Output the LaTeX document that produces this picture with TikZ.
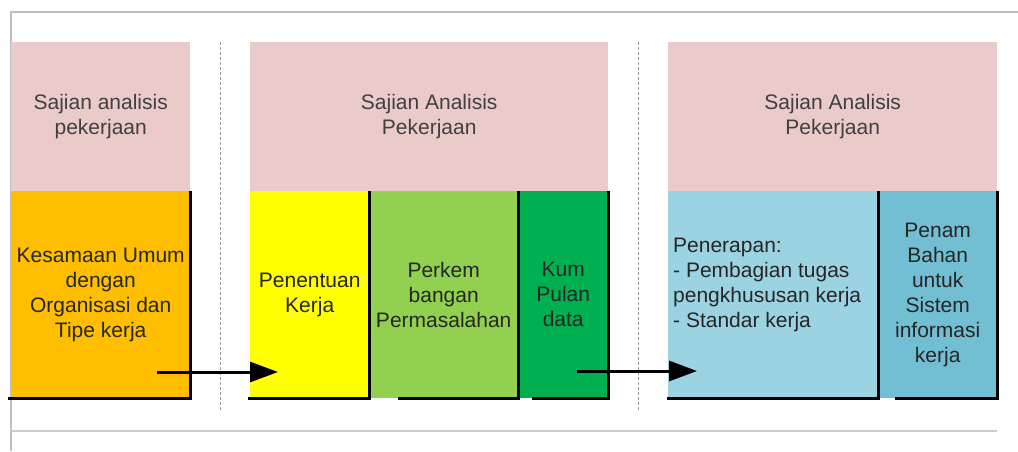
\documentclass[tikz,border=0pt]{standalone}
\usepackage{fontspec}
\setmainfont{Liberation Sans}
\usetikzlibrary{arrows.meta}
\definecolor{headpink}{HTML}{EBCBCA}
\definecolor{workorange}{HTML}{FFBF00}
\definecolor{workyellow}{HTML}{FFFF00}
\definecolor{worklime}{HTML}{92D050}
\definecolor{workgreen}{HTML}{00B050}
\definecolor{worksky}{HTML}{9CD3E2}
\definecolor{workteal}{HTML}{72BED3}
\begin{document}
\begin{tikzpicture}[x=1pt,y=-1pt,font=\fontsize{21}{25}\selectfont,
  head/.style={fill=headpink,anchor=north west,inner sep=0pt,align=center,text=black!75,minimum height=149},
  body/.style={anchor=north west,inner sep=0pt,align=center,text=black!85,minimum height=207},
  edge/.style={line width=3pt},
  flow/.style={line width=3pt,-{Triangle[length=28pt,width=20pt]}}]
	\useasboundingbox (0,0) rectangle (1018,451);
	
	%frame
	\draw[black!25,line width=1.5pt] (11,451) -- (11,12) -- (1018,12);
	\draw[black!20,line width=1.5pt] (11,431) -- (997,431);
	\draw[black!40,dash pattern=on 3pt off 2pt] (220,42) -- (220,412); %separator 1
	\draw[black!40,dash pattern=on 3pt off 2pt] (638,42) -- (638,412); %separator 2
	
	%headers
	\node[head,minimum width=179] (h1) at (11,42) {Sajian analisis\\pekerjaan};
	\node[head,minimum width=358] (h2) at (250,42) {Sajian Analisis\\Pekerjaan};
	\node[head,minimum width=329] (h3) at (668,42) {Sajian Analisis\\Pekerjaan};
	
	%steps
	\node[body,fill=workorange,minimum width=179] (b1) at (11,191) {Kesamaan Umum\\dengan\\Organisasi dan\\Tipe kerja};
	\node[body,fill=workyellow,minimum width=119] (b2) at (250,191) {Penentuan\\Kerja};
	\node[body,fill=worklime,minimum width=149] (b3) at (369,191) {Perkem\\bangan\\Permasalahan};
	\node[body,fill=workgreen,minimum width=90] (b4) at (518,191) {Kum\\Pulan\\data};
	\node[body,fill=worksky,minimum width=210] (b5) at (668,191) {};
	\node[body,fill=workteal,minimum width=119] (b6) at (878,191) {Penam\\Bahan\\untuk\\Sistem\\informasi\\kerja};
	\node[anchor=west,align=left,inner sep=0pt,text=black!85] (t5) at (673,285) {Penerapan:\\- Pembagian tugas\\pengkhususan kerja\\- Standar kerja}; %left aligned
	
	%black edges
	\foreach \b/\s in {b1/-3,b2/-2,b3/29,b4/14,b5/-1,b6/17}
	  \draw[edge] ([xshift=\s pt]\b.south west) -- (\b.south east) -- (\b.north east);
	
	%arrows
	\coordinate (a1s) at (157,372);
	\coordinate (a1e) at (278,372);
	\coordinate (a2s) at (577,371);
	\coordinate (a2e) at (697,371);
	\draw[flow] (a1s) -- (a1e);
	\draw[flow] (a2s) -- (a2e);
	
\end{tikzpicture}
\end{document}
